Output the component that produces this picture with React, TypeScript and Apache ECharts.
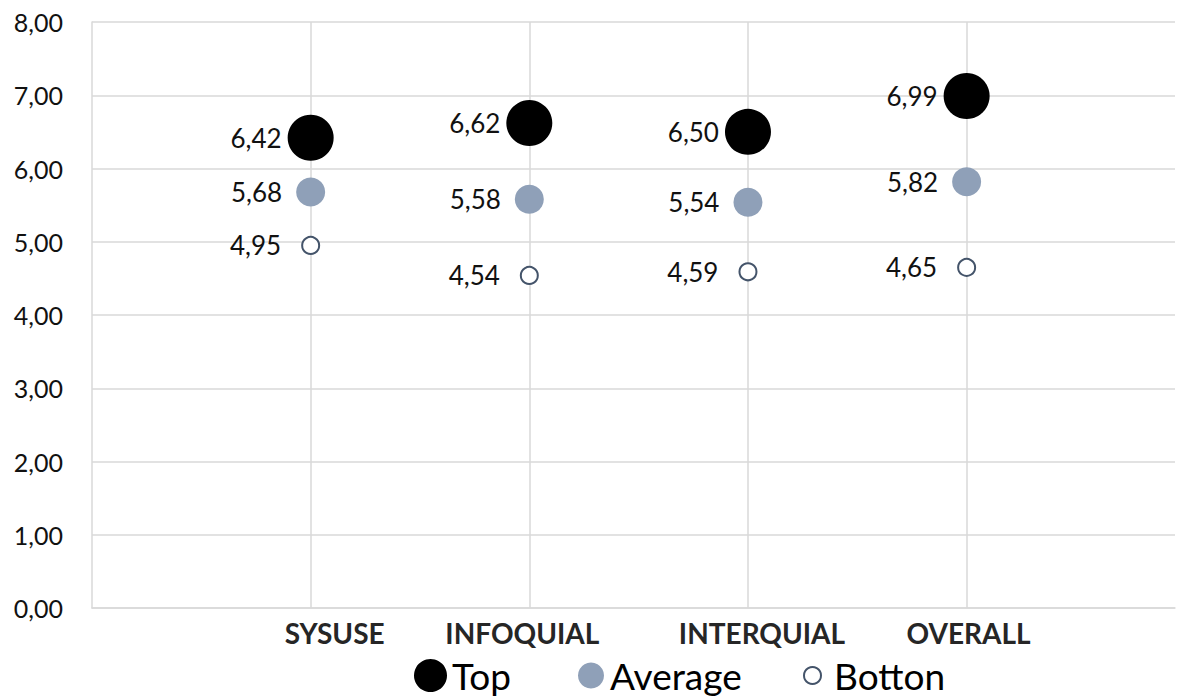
import React, { useEffect, useRef } from "react";
import * as echarts from "echarts";

// Dimensions shown along the horizontal axis (placed at x = 1..4)
const categories = ["SYSUSE", "INFOQUIAL", "INTERQUIAL", "OVERALL"];
const categoryX = [1, 2, 3, 4];

// Scores per group
const topValues = [6.42, 6.62, 6.5, 6.99];
const averageValues = [5.68, 5.58, 5.54, 5.82];
const bottomValues = [4.95, 4.54, 4.59, 4.65];

const yTicks = { min: 0, max: 8, interval: 1 };

const FONT = "Lato, 'Noto Sans', sans-serif";
const GRID = "#d9d9d9";

const fmt = (v: number) => v.toFixed(2).replace(".", ",");

export default function App() {
  const ref = useRef<HTMLDivElement>(null);

  useEffect(() => {
    if (!ref.current) return;
    const chart = echarts.init(ref.current, undefined, { renderer: "svg" });

    const toPoints = (vals: number[]) => vals.map((v, i) => [categoryX[i], v]);

    // Horizontal nudges for the category labels (in px, negative = left)
    const labelShift = [24, -7, 14, 2];
    const rich: Record<string, any> = {};
    labelShift.forEach((s, i) => {
      rich["c" + i] = {
        fontFamily: FONT,
        fontSize: 28,
        fontWeight: "bold",
        color: "#262626",
        padding: s < 0 ? [0, -2 * s, 0, 0] : [0, 0, 0, 2 * s],
      };
    });

    const labelStyle = (distance: number) => ({
      show: true,
      position: "left" as const,
      distance,
      fontFamily: FONT,
      fontSize: 26,
      color: "#111",
      formatter: (p: any) => fmt(p.value[1]),
    });

    const legendText = { fontFamily: FONT, fontSize: 37, color: "#000", lineHeight: 37 };
    const legendBase = {
      top: 657,
      padding: 0,
      icon: "circle",
      itemGap: 0,
    };

    const lineStyle = { color: GRID, width: 1.5, type: "solid" as const };

    chart.setOption({
      animation: false,
      backgroundColor: "#fff",
      grid: { left: 92, right: 0, top: 22, bottom: 90, containLabel: false },
      xAxis: {
        type: "value",
        min: 0,
        // the plot is cut at the window edge, just short of x = 5
        max: 4.953,
        interval: 1,
        axisLine: { show: true, lineStyle },
        axisTick: { show: false },
        splitLine: { show: false },
        axisLabel: {
          margin: 11,
          formatter: (v: number) => {
            const i = categoryX.indexOf(v);
            return i >= 0 ? `{c${i}|${categories[i]}}` : "";
          },
          rich,
        },
      },
      yAxis: {
        type: "value",
        min: yTicks.min,
        max: yTicks.max,
        interval: yTicks.interval,
        axisLine: { show: true, lineStyle },
        axisTick: { show: false },
        splitLine: { show: true, lineStyle },
        axisLabel: {
          margin: 29,
          fontFamily: FONT,
          fontSize: 25,
          color: "#111",
          formatter: (v: number) => fmt(v),
        },
      },
      legend: [
        { ...legendBase, left: 414, itemWidth: 33, itemHeight: 33, data: ["Top"], textStyle: { ...legendText, padding: [0, 0, 0, 0] } },
        { ...legendBase, left: 578, itemWidth: 26, itemHeight: 26, data: ["Average"], textStyle: { ...legendText, padding: [0, 0, 0, 1] } },
        { ...legendBase, left: 803, itemWidth: 17, itemHeight: 17, data: ["Botton"], textStyle: { ...legendText, padding: [0, 0, 0, 8] } },
      ],
      series: [
        {
          name: "Top",
          type: "scatter",
          symbol: "circle",
          symbolSize: 46,
          itemStyle: { color: "#000", opacity: 1 },
          label: labelStyle(6),
          data: toPoints(topValues),
          z: 3,
          // vertical gridlines at each dimension
          markLine: {
            silent: true,
            z: 1,
            symbol: ["none", "none"],
            label: { show: false },
            lineStyle,
            emphasis: { disabled: true },
            data: categoryX.map((x) => ({ xAxis: x })),
          },
        },
        {
          name: "Average",
          type: "scatter",
          symbol: "circle",
          symbolSize: 29,
          itemStyle: { color: "#8fa0b8", opacity: 1 },
          label: labelStyle(14),
          data: toPoints(averageValues),
          z: 3,
        },
        {
          name: "Botton",
          type: "scatter",
          symbol: "circle",
          symbolSize: 17,
          itemStyle: { color: "#fff", borderColor: "#44546a", borderWidth: 2, opacity: 1 },
          label: labelStyle(20),
          data: toPoints(bottomValues),
          z: 3,
        },
      ],
    });

    return () => chart.dispose();
  }, []);

  return (
    <div
      ref={ref}
      style={{ position: "fixed", left: 0, top: 0, width: 1178, height: 698, background: "#fff" }}
    />
  );
}
